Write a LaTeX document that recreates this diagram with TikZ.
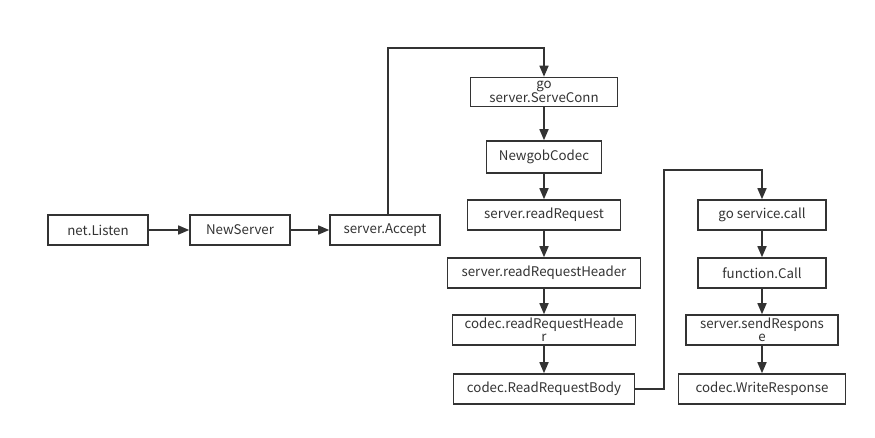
\documentclass[tikz,border=0pt]{standalone}
\usepackage{fontspec}
\setmainfont{Noto Sans CJK SC}
\usetikzlibrary{arrows.meta, positioning}
\definecolor{flowGray}{RGB}{51,51,51}
\tikzset{
    box/.style={draw=flowGray, line width=1.6pt, minimum height=30, inner sep=0pt,
        align=center, text=flowGray, font=\fontsize{13.3}{13.3}\selectfont},
    flow/.style={draw=flowGray, line width=1.6pt, -{Triangle[length=11pt,width=9pt]}}
}

\begin{document}
\begin{tikzpicture}[x=1pt, y=-1pt]
    \useasboundingbox (0,0) rectangle (875,437);

    % Server start-up
    \node[box, minimum width=100] (listen) at (98,230) {net.Listen};
    \node[box, minimum width=100] (newserver) at (240,230) {NewServer};
    \node[box, minimum width=110] (accept) at (385,230) {server.Accept};

    % Reading a request
    \node[box, minimum width=147, minimum height=29] (serveconn) at (544,92) {go\\server.ServeConn};
    \node[box, minimum width=115, minimum height=32] (gobcodec) at (544,157) {NewgobCodec};
    \node[box, minimum width=153] (readreq) at (544,215) {server.readRequest};
    \node[box, minimum width=193] (readhdr) at (544,273) {server.readRequestHeader};
    \node[box, minimum width=183] (codechdr) at (544,330) {codec.readRequestHeade\\r};
    \node[box, minimum width=181] (readbody) at (544,389) {codec.ReadRequestBody};

    % Calling and answering
    \node[box, minimum width=128] (svccall) at (762,215) {go service.call};
    \node[box, minimum width=128] (funccall) at (762,273) {function.Call};
    \node[box, minimum width=152] (sendresp) at (762,330) {server.sendRespons\\e};
    \node[box, minimum width=167] (writeresp) at (762,389) {codec.WriteResponse};

    \coordinate (topbend) at (388,48);
    \coordinate (midbend) at (664,170);

    \draw[flow] (listen) -- (newserver);
    \draw[flow] (newserver) -- (accept);
    \draw[flow] (accept.north -| topbend) -- (topbend) -| (serveconn.north);
    \foreach \a/\b in {serveconn/gobcodec, gobcodec/readreq, readreq/readhdr,
                       readhdr/codechdr, codechdr/readbody,
                       svccall/funccall, funccall/sendresp, sendresp/writeresp}
        \draw[flow] (\a) -- (\b);
    \draw[flow] (readbody.east) -| (midbend) -| (svccall.north);
\end{tikzpicture}
\end{document}
